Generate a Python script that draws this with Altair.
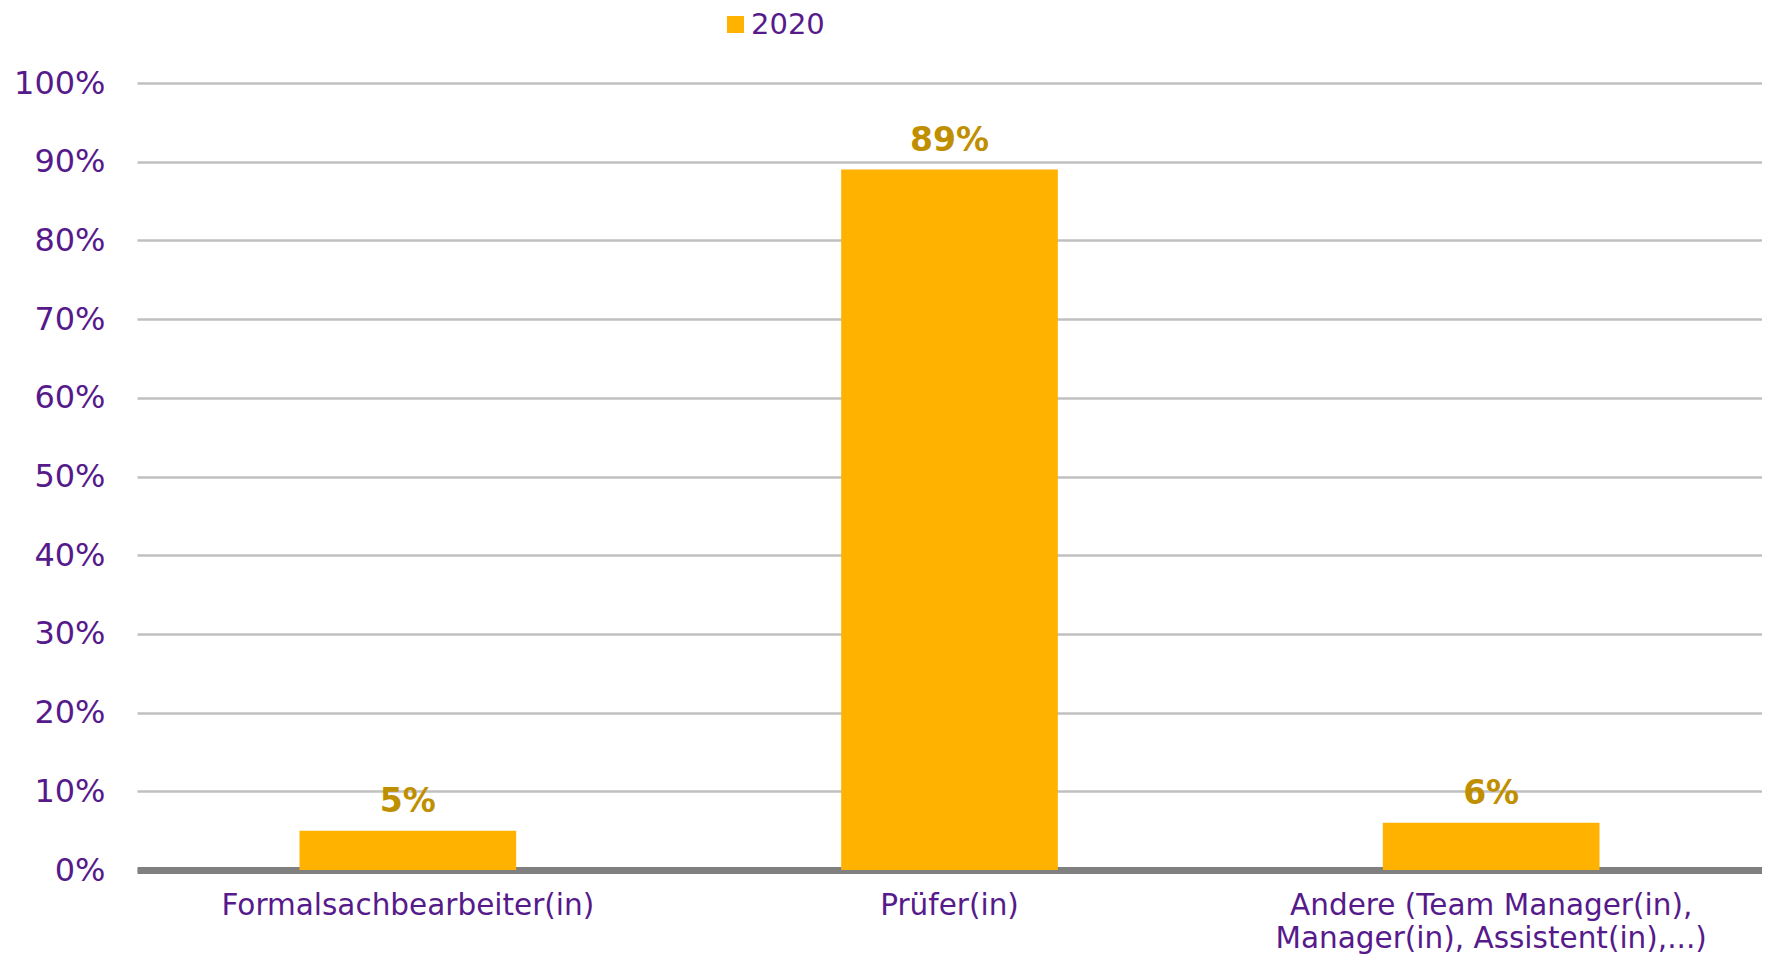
import altair as alt
import pandas as pd

categories = ["Formalsachbearbeiter(in)", "Prüfer(in)", "Andere (Team Manager(in), Manager(in), Assistent(in),...)"]
values = [0.05, 0.89, 0.06]
labels = ["5%", "89%", "6%"]
series = ["2020", "2020", "2020"]

df = pd.DataFrame({"cat": categories, "val": values, "lab": labels, "series": series})

PURPLE = "#561A8B"
FONT = "DejaVu Sans"

x = alt.X("cat:N", sort=categories, title=None,
          scale=alt.Scale(paddingInner=0.6, paddingOuter=0.3),
          axis=alt.Axis(labelAngle=0, labelFontSize=29.5, labelColor=PURPLE, labelFont=FONT,
                        labelPadding=21, ticks=False, domainColor="#808080", domainWidth=7,
                        labelLineHeight=33, labelLimit=800,
                        labelExpr="datum.label == 'Andere (Team Manager(in), Manager(in), Assistent(in),...)' ? ['Andere (Team Manager(in),', 'Manager(in), Assistent(in),...)'] : datum.label"))

bars = alt.Chart(df).mark_bar(color="#FFB300").encode(
    x=x,
    y=alt.Y("val:Q", title=None,
            scale=alt.Scale(domain=[0, 1], nice=False),
            axis=alt.Axis(values=[i / 10 for i in range(11)], format=".0%", labelFontSize=32,
                          labelColor=PURPLE, labelFont=FONT, labelPadding=32, ticks=False,
                          domain=False, gridColor="#C0C0C0", gridWidth=2.5)),
    color=alt.Color("series:N", scale=alt.Scale(range=["#FFB300"]),
                    legend=alt.Legend(title=None, orient="none", legendX=584, legendY=-73,
                                      symbolType="square", symbolSize=290, labelFontSize=29,
                                      labelColor=PURPLE, labelFont=FONT, labelOffset=1,
                                      symbolStrokeWidth=0)),
)

text = alt.Chart(df).mark_text(fontSize=33, fontWeight="bold", color="#BF8F00", font=FONT,
                               baseline="alphabetic", dy=-19).encode(
    x=alt.X("cat:N", sort=categories),
    y="val:Q",
    text="lab:N",
)

chart = (bars + text).properties(
    width=1625, height=787,
    autosize=alt.AutoSizeParams(type="none"),
    padding={"left": 129, "top": 75, "right": 0, "bottom": 87},
).configure_view(stroke=None)

chart.save("out.html", embed_options={"renderer": "svg", "actions": False})
